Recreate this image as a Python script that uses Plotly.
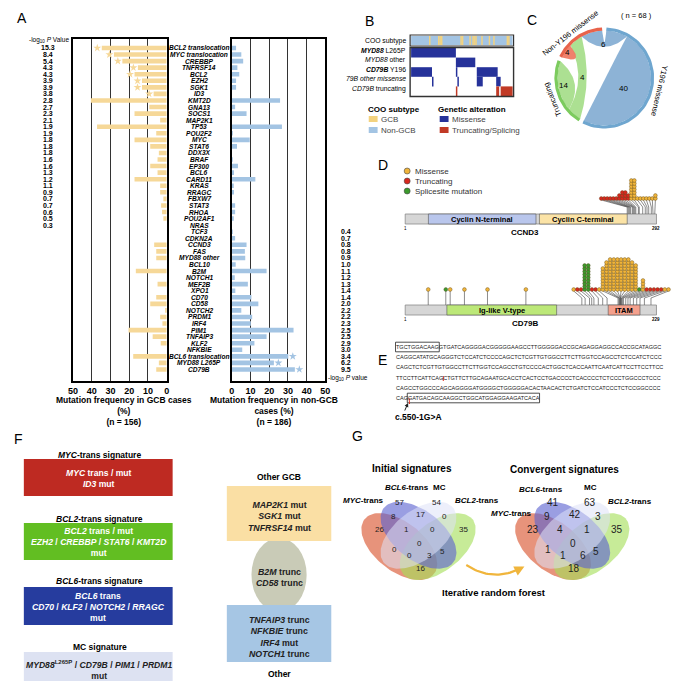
import numpy as np
import plotly.graph_objects as go

W, H = 685, 681
FONT = "Liberation Sans, Arial, sans-serif"

# ---------------- A: mutation frequency by COO ----------------
genes = ["BCL2 translocation", "MYC translocation", "CREBBP", "TNFRSF14", "BCL2", "EZH2", "SGK1", "ID3",
         "KMT2D", "GNA13", "SOCS1", "MAP2K1", "TP53", "POU2F2", "MYC", "STAT6", "DDX3X", "BRAF",
         "EP300", "BCL6", "CARD11", "KRAS", "RRAGC", "FBXW7", "STAT3", "RHOA", "POU2AF1", "NRAS",
         "TCF3", "CDKN2A", "CCND3", "FAS", "MYD88 other", "BCL10", "B2M", "NOTCH1", "MEF2B", "XPO1",
         "CD70", "CD58", "NOTCH2", "PRDM1", "IRF4", "PIM1", "TNFAIP3", "KLF2", "NFKBIE",
         "BCL6 translocation", "MYD88 L265P", "CD79B"]
gcb_freq = [34.7, 28.2, 23.7, 15.4, 17.2, 13.2, 13.2, 7.0, 40.5, 9.3,
            17.2, 3.5, 37.2, 5.6, 17.2, 8.8, 4.2, 4.9, 8.8, 4.9,
            17.2, 3.5, 3.5, 1.8, 3.0, 2.5, 1.8, 0, 0, 0,
            6.7, 5.6, 5.6, 0, 16.5, 0, 4.9, 0, 5.6, 8.8,
            0.4, 3.5, 2.3, 20.4, 7.5, 3.2, 0, 17.9, 4.2, 5.6]
nongcb_freq = [2.3, 5.1, 6.1, 3.0, 4.0, 2.3, 2.3, 0, 25.8, 1.8,
               7.9, 0, 26.8, 0.5, 9.6, 2.8, 0, 0.5, 3.3, 1.2,
               12.6, 0.7, 1.2, 0, 1.8, 1.8, 0.7, 0, 0.5, 1.8,
               7.9, 7.0, 7.2, 2.1, 18.6, 1.6, 8.6, 1.9, 10.5, 14.2,
               5.1, 10.9, 10.2, 33.0, 18.6, 12.1, 5.6, 30.2, 22.5, 33.7]
gcb_logp = ["15.3", "8.4", "5.4", "4.3", "4.3", "3.9", "3.9", "3.8", "2.8", "2.7", "2.3", "2.1", "1.9", "1.9",
            "1.8", "1.8", "1.8", "1.6", "1.6", "1.3", "1.2", "1.1", "0.9", "0.7", "0.7", "0.6", "0.5", "0.3"]
nongcb_logp = ["0.4", "0.7", "0.8", "0.8", "0.9", "1.0", "1.1", "1.2", "1.3", "1.4", "1.4", "2.0", "2.2",
               "2.2", "2.3", "2.5", "2.5", "2.9", "3.0", "3.4", "6.2", "9.5"]
gcb_sig = [0, 1, 2, 3, 4, 5, 6, 7]
nongcb_sig = [47, 48, 49]

# ---------------- B: oncoprint ----------------
n_cases = 68
coo_gcb_cols = [12, 18, 19, 20, 33, 34, 39, 41, 42, 43, 47, 52, 55, 64, 65]
onco_rows = ["MYD88 L265P", "MYD88 other", "CD79B Y196", "CD79B other missense", "CD79B truncating"]
onco_runs = [
    [(0, 30, "M")],
    [(30, 43, "M")],
    [(0, 14, "M"), (30, 31, "M"), (44, 58, "M")],
    [(14, 15, "M"), (31, 32, "M"), (44, 48, "M"), (57, 60, "M")],
    [(30, 31, "T"), (57, 59, "T"), (60, 68, "T")],
]

# ---------------- C: chord ----------------
chord_groups = ["Y196 missense", "Truncating", "Non-Y196 missense"]
chord_links = [("Y196 missense", "Non-Y196 missense", 6), ("Y196 missense", "Y196 missense", 40),
               ("Truncating", "Non-Y196 missense", 4), ("Truncating", "Truncating", 14),
               ("Non-Y196 missense", "Non-Y196 missense", 4)]
seg_order = {"Y196 missense": [0, 1], "Truncating": [2, 3], "Non-Y196 missense": [4, 2, 0]}

# ---------------- D: lollipops ----------------
ccnd3_len = 292
ccnd3_domains = [("Cyclin N-terminal", 27, 152), ("Cyclin C-terminal", 156, 258)]
ccnd3_types = list("RRRRRRRRRROOOOOOOOO")
ccnd3_counts = [1, 1, 1, 1, 1, 1, 2, 3, 3, 2, 7, 7, 1, 1, 1, 1, 1, 1, 2]
ccnd3_aa = [258, 259, 260, 261, 262, 264, 265, 266, 267, 268, 271, 272, 276, 279, 281, 283, 286, 288, 290]
cd79b_len = 229
cd79b_domains = [("Ig-like V-type", 38, 138), ("ITAM", 185, 214)]
cd79b_single_aa = [21, 37, 41, 54, 75, 110]
cd79b_single_types = list("OGOOOO")
cd79b_types = list("ORRGGRROOOOOOOOOOOGORRRRROO")
cd79b_counts = [1, 1, 1, 9, 9, 1, 1, 1, 8, 10, 11, 11, 11, 11, 11, 11, 10, 9, 1, 4, 1, 1, 1, 1, 1, 1, 1]
cd79b_aa = [161, 164, 168, 170, 172, 176, 180, 184, 194, 195, 195, 196, 196, 196, 196, 197, 197, 198,
            199, 201, 203, 205, 208, 211, 214, 218, 224]

# ---------------- E: sequence ----------------
seq_lines = [
    ("", "TGCTGGACAAG", "GTGATCAGGGGACGGGGGAAGCCTTGGGGGACCGCAGAGGAGGCCACCGCATAGGC"),
    ("CAGGCATATGCAGGGTCTCCATCTCCCCAGCTCTCGTTGTGGCCTTCTTGGTCCAGCCTCTCCATCTCCC", "", ""),
    ("CAGCTCTCGTTGTGGCCTTCTTGGTCCAGCCTGTCCCCACTGGCTCACCAATTCAATCATTCCTTCCTTCC", "", ""),
    ("TTCCTTCATTCAGCTGTTCTTGCAGAATGCACCTCACTCCTGACCCCTCACCCCTCTCCCTGGCCCTCCC", "", ""),
    ("CAGCCTGGCCCAGCAGGGGATGGGGCTGGGGGACACTAACACTCTGATCTCCATCCCTCTCCGGCCCC", "", ""),
    ("CAG", "GATGACAGCAAGGCTGGCATGGAGGAAGATCACA", ""),
]

# ---------------- G: Venn ----------------
venn_sets = ["MYC", "BCL6", "MC", "BCL2"]
venn_regions = ["A", "B", "C", "D", "AB", "BC", "CD", "ABC", "BCD", "AC", "ABCD", "BD", "ACD", "ABD", "AD"]
initial_counts = [26, 57, 54, 35, 8, 17, 0, 1, 0, 0, 0, 5, 0, 3, 16]
convergent_counts = [23, 41, 63, 35, 9, 42, 3, 4, 1, 1, 0, 5, 1, 6, 18]

GCB_COL = "#F6D898"
NON_COL = "#A3C4E3"
MIS_COL = "#26329A"
TRU_COL = "#C13A26"

fig = go.Figure()
shapes, ann = [], []


def txt(x, y, s, size=8, color="black", xa="center", ya="middle", angle=0):
    ann.append(dict(x=x, y=y, xref="x3", yref="y3", text=s, showarrow=False, textangle=angle,
                    font=dict(size=size, color=color, family=FONT), xanchor=xa, yanchor=ya,
                    borderpad=0, borderwidth=0))


def rect(x0, y0, x1, y1, fill, line=None, lw=0, layer="below"):
    shapes.append(dict(type="rect", xref="x3", yref="y3", x0=x0, y0=y0, x1=x1, y1=y1,
                       fillcolor=fill, line=dict(color=line or fill, width=lw), layer=layer))


def poly(xs, ys, fill, line="rgba(0,0,0,0)", lw=0):
    fig.add_trace(go.Scatter(x=xs, y=ys, mode="lines", fill="toself", fillcolor=fill,
                             line=dict(color=line, width=lw), xaxis="x3", yaxis="y3", hoverinfo="skip"))


# ===== A =====
rows = list(range(len(genes)))
fig.add_trace(go.Bar(x=gcb_freq, y=rows, orientation="h", marker=dict(color=GCB_COL, line=dict(width=0)),
                     width=0.7, xaxis="x", yaxis="y"))
fig.add_trace(go.Bar(x=nongcb_freq, y=rows, orientation="h", marker=dict(color=NON_COL, line=dict(width=0)),
                     width=0.7, xaxis="x2", yaxis="y2"))
fig.add_trace(go.Scatter(x=[gcb_freq[i] + 2.4 for i in gcb_sig], y=gcb_sig, mode="markers",
                         marker=dict(symbol="star", size=6, color=GCB_COL), xaxis="x", yaxis="y"))
fig.add_trace(go.Scatter(x=[nongcb_freq[i] + 2.4 for i in nongcb_sig], y=nongcb_sig, mode="markers",
                         marker=dict(symbol="star", size=6, color=NON_COL), xaxis="x2", yaxis="y2"))

for i, g in enumerate(genes):
    ann.append(dict(x=189 / W, y=i, xref="paper", yref="y", text=f"<b><i>{g}</i></b>", showarrow=False,
                    font=dict(size=6.6, family=FONT, color="black"), xanchor="center", borderpad=0))
for i, v in enumerate(gcb_logp):
    ann.append(dict(x=36 / W, y=i, xref="paper", yref="y", text=f"<b>{v}</b>", showarrow=False,
                    font=dict(size=7, family=FONT, color="black"), xanchor="center", borderpad=0))
for k, v in enumerate(nongcb_logp):
    ann.append(dict(x=332 / W, y=len(gcb_logp) + k, xref="paper", yref="y", text=f"<b>{v}</b>",
                    showarrow=False, font=dict(size=7, family=FONT, color="black"), xanchor="left",
                    borderpad=0))
txt(37, 32, "-log<sub>10</sub> <i>P</i> Value", 6.5)
txt(320, 370, "-log<sub>10</sub> <i>P</i> value", 6.5, xa="left")
txt(113, 403, "<b>Mutation frequency in GCB cases<br>(%)<br>(n = 156)</b>", 8.5)
txt(265, 403, "<b>Mutation frequency in non-GCB<br>cases (%)<br>(n = 186)</b>", 8.5)
txt(9, 10, "A", 14)

# ===== B =====
x0b, x1b = 404, 507
cw = (x1b - x0b) / n_cases
rect(x0b, 28, x1b, 37, NON_COL)
for c in coo_gcb_cols:
    rect(x0b + c * cw, 28, x0b + (c + 1) * cw, 37, "#F3D27E")
rect(x0b - 1, 27, x1b + 1, 38, "rgba(0,0,0,0)", "#333", 1.2, "above")
row_h = 9.6
for r, runs in enumerate(onco_runs):
    for s, e, t in runs:
        rect(x0b + s * cw, 40 + r * row_h, x0b + e * cw, 40 + (r + 1) * row_h, MIS_COL if t == "M" else TRU_COL)
rect(x0b - 1, 39.5, x1b + 1, 40 + 5 * row_h + 0.5, "rgba(0,0,0,0)", "#333", 1.4, "above")
row_lbl = ["COO subtype", "<b><i>MYD88</i></b> L265P", "<i>MYD88</i> other", "<b><i>CD79B</i></b> Y196",
           "<i>79B other missense</i>", "<i>CD79B</i> truncating"]
for r, lab in enumerate(row_lbl):
    txt(399, 32.5 + r * row_h, lab, 6.8, xa="right")
txt(362, 13, "B", 14)
txt(360, 101, "<b>COO subtype</b>", 8, xa="left")
rect(361, 108, 370, 114, "#F3D27E")
txt(373, 111, "GCB", 8, color="#444", xa="left")
rect(361, 119, 370, 125, NON_COL)
txt(373, 122, "Non-GCB", 8, color="#444", xa="left")
txt(431, 101, "<b>Genetic alteration</b>", 8, xa="left")
rect(433, 108, 442, 114, MIS_COL)
txt(445, 111, "Missense", 8, color="#444", xa="left")
rect(433, 119, 442, 125, TRU_COL)
txt(445, 122, "Truncating/Splicing", 8, color="#444", xa="left")

# ===== C =====
ccx, ccy, RR = 600, 70, 49
RI = RR - 1.5
fills = {"Y196 missense": "rgba(135,175,212,0.95)", "Truncating": "rgba(168,222,140,0.95)",
         "Non-Y196 missense": "rgba(238,122,100,0.95)"}
rings = {"Y196 missense": "#6FA6CF", "Truncating": "#7CCB5E", "Non-Y196 missense": "#E8634B"}


def cpt(t, r):
    a = np.radians(t)
    return ccx + r * np.sin(a), ccy - r * np.cos(a)


def arcpts(a1, a2, r, n=40):
    ts = np.linspace(a1, a2, n)
    return [cpt(t, r) for t in ts]


def bez(a, b, r):
    p0, p2 = np.array(cpt(a, r)), np.array(cpt(b, r))
    va = np.array([np.sin(np.radians(a)), np.cos(np.radians(a))])
    vb = np.array([np.sin(np.radians(b)), np.cos(np.radians(b))])
    d = np.degrees(np.arccos(np.clip(va @ vb, -1, 1)))
    m = va + vb
    mid = np.degrees(np.arctan2(m[0], m[1])) if np.linalg.norm(m) > 1e-6 else a + 90
    ctrl = np.array(cpt(mid, r * np.cos(np.radians(d / 2)) * 0.5))
    ts = np.linspace(0, 1, 40)[:, None]
    return list(map(tuple, (1 - ts) ** 2 * p0 + 2 * (1 - ts) * ts * ctrl + ts ** 2 * p2))


totals = {g: 0 for g in chord_groups}
for a, b, v in chord_links:
    totals[a] += v
    if b != a:
        totals[b] += v
gap = 5
unit = (360 - gap * len(chord_groups)) / sum(totals.values())
seg = {}
start = 2.5
garc = {}
for g in chord_groups:
    cur = start
    for li in seg_order[g]:
        v = chord_links[li][2]
        seg[(g, li)] = (cur, cur + v * unit)
        cur += v * unit
    garc[g] = (start, cur)
    start = cur + gap

for li, (a, b, v) in enumerate(chord_links):
    a1, a2 = seg[(a, li)]
    if a == b:
        pts = arcpts(a1, a2, RI) + bez(a2, a1, RI)
        d = a2 - a1
        lr = (RI + RI * np.cos(np.radians(d / 2))) / 2 - 2
        lx, ly = cpt((a1 + a2) / 2, lr)
    else:
        b1, b2 = seg[(b, li)]
        pts = arcpts(a1, a2, RI) + bez(a2, b1, RI) + arcpts(b1, b2, RI) + bez(b2, a1, RI)
        e1, e2 = bez(a2, b1, RI), bez(b2, a1, RI)
        lx = (e1[20][0] + e2[20][0]) / 2
        ly = (e1[20][1] + e2[20][1]) / 2
    xs, ys = zip(*pts)
    poly(list(xs), list(ys), fills[a])
    txt(lx, ly, str(v), 8)
for g in chord_groups:
    xs, ys = zip(*arcpts(garc[g][0], garc[g][1], RR, 60))
    fig.add_trace(go.Scatter(x=xs, y=ys, mode="lines", line=dict(color=rings[g], width=3.2),
                             xaxis="x3", yaxis="y3", hoverinfo="skip"))
lab_ang = {"Y196 missense": 103, "Truncating": 248, "Non-Y196 missense": 322}
for g in chord_groups:
    lx, ly = cpt(lab_ang[g], RR + 8)
    ang = lab_ang[g] if lab_ang[g] <= 180 else lab_ang[g] - 360
    txt(lx, ly, g, 7.6, angle=ang)
txt(527, 12, "C", 14)
txt(633, 7, "( n = 68 )", 7.5)

# ===== D =====
COLS = {"O": "#F0B43A", "R": "#D8281E", "G": "#3C9A2C"}
PX0, PX1 = 398, 653
txt(375, 157, "D", 14)
for k, (lab, t) in enumerate([("Missense", "O"), ("Truncating", "R"), ("Splicesite mutation", "G")]):
    fig.add_trace(go.Scatter(x=[400], y=[163 + k * 10], mode="markers", xaxis="x3", yaxis="y3",
                             marker=dict(size=6, color=COLS[t], line=dict(color="#444", width=0.6))))
    txt(408, 163 + k * 10, lab, 8, color="#333", xa="left")


def lollipop(length, domains, dom_cols, y_bar, name, types, counts, aa, x_start, dx, singles=None):
    sc = lambda v: PX0 + (PX1 - PX0) * v / length
    rect(PX0, y_bar, PX1, y_bar + 10, "#D6D6D6", "#8A8A8A", 0.8)
    for (dn, s, e), col in zip(domains, dom_cols):
        rect(sc(s), y_bar, sc(e), y_bar + 10, col, "#555", 0.6)
        txt((sc(s) + sc(e)) / 2, y_bar + 5, f"<b>{dn}</b>", 7.5)
    txt(PX0, y_bar + 14, "1", 4.5)
    txt(PX1, y_bar + 14, f"<b>{length}</b>", 4.5)
    txt((PX0 + PX1) / 2 - 6, y_bar + 18, f"<b>{name}</b>", 8)
    base = y_bar - 15.5
    lx, ly = [], []
    mx, my, mc = [], [], []
    for i, (t, c, a) in enumerate(zip(types, counts, aa)):
        cx = x_start + i * dx
        lx += [cx, sc(a), sc(a), None]
        ly += [base + 1.5, y_bar - 7, y_bar, None]
        for j in range(c):
            mx.append(cx)
            my.append(base - 3.0 * j)
            mc.append(COLS[t])
    if singles:
        for a, t in zip(*singles):
            lx += [sc(a), sc(a), None]
            ly += [base, y_bar, None]
            mx.append(sc(a))
            my.append(base)
            mc.append(COLS[t])
    fig.add_trace(go.Scatter(x=lx, y=ly, mode="lines", line=dict(color="#5A5A5A", width=0.7),
                             xaxis="x3", yaxis="y3", hoverinfo="skip"))
    fig.add_trace(go.Scatter(x=mx, y=my, mode="markers", xaxis="x3", yaxis="y3", hoverinfo="skip",
                             marker=dict(size=3.8, color=mc, line=dict(color="#5A4A20", width=0.4))))


lollipop(ccnd3_len, ccnd3_domains, ["#B9C6EC", "#FBE3A6"], 206, "CCND3", ccnd3_types, ccnd3_counts,
         ccnd3_aa, 597, 3.05)
lollipop(cd79b_len, cd79b_domains, ["#BCE878", "#F4A08C"], 297, "CD79B", cd79b_types, cd79b_counts,
         cd79b_aa, 569, 3.7, (cd79b_single_aa, cd79b_single_types))

# ===== E =====
CW = {"A": 0.667, "C": 0.722, "G": 0.778, "T": 0.611}
SZ = 5.5
sw = lambda s: sum(CW[c] for c in s) * SZ
txt(375, 352, "E", 14)
for k, (pre, boxed, post) in enumerate(seq_lines):
    y = 339 + k * 10.2
    xs = 389
    full = pre + boxed + post
    txt(xs, y, full, SZ, color="#222", xa="left")
    if boxed:
        bx0 = xs + sw(pre)
        rect(bx0 - 0.8, y - 4.8, bx0 + sw(boxed) + 0.8, y + 4.8, "rgba(0,0,0,0)", "#222", 0.8, "above")
tick4 = 389 + sw(seq_lines[3][0][:13])
shapes.append(dict(type="line", xref="x3", yref="y3", x0=tick4, x1=tick4, y0=368, y1=373,
                   line=dict(color="#E03020", width=1)))
tick6 = 389 + sw("CAG")
shapes.append(dict(type="line", xref="x3", yref="y3", x0=tick6 + 1, x1=tick6 + 1.5, y0=390, y1=396,
                   line=dict(color="#E03020", width=1)))
ann.append(dict(x=tick6, y=395, ax=tick6 - 4, ay=404, xref="x3", yref="y3", axref="x3", ayref="y3",
                showarrow=True, arrowhead=2, arrowsize=0.8, arrowwidth=1, arrowcolor="#222", text=""))
txt(388, 409, "<b>c.550-1G>A</b>", 8.5, xa="left")

# ===== F =====
txt(6, 431, "F", 14)
fbox = [
    ("<b><i>MYC</i>-trans signature</b>", 447, 451, 488, "#BE2A22", "white",
     "<b><i>MYC</i> trans / mut<br><i>ID3</i> mut</b>", 470),
    ("<b><i>BCL2</i>-trans signature</b>", 511, 515, 552, "#62BE22", "white",
     "<b><i>BCL2</i> trans / mut<br><i>EZH2</i> / <i>CREBBP</i> / <i>STAT6</i> / <i>KMT2D</i><br>mut</b>", 534),
    ("<b><i>BCL6</i>-trans signature</b>", 573, 579, 617, "#263C9E", "white",
     "<b><i>BCL6</i> trans<br><i>CD70</i> / <i>KLF2</i> / <i>NOTCH2</i> / <i>RRAGC</i><br>mut</b>", 599),
    ("<b>MC signature</b>", 639, 644, 690, "#DDE2F2", "#222",
     "<b><i>MYD88</i><sup>L265P</sup> / <i>CD79B</i> / <i>PIM1</i> / <i>PRDM1</i><br>mut</b>", 662),
]
for title, ty, y0, y1, col, tc, body, by in fbox:
    txt(88, ty, title, 8.5)
    rect(11, y0, 162, y1, col)
    txt(87, by, body, 8.6, color=tc)
shapes.append(dict(type="circle", xref="x3", yref="y3", x0=242, x1=298, y0=530, y1=604,
                   fillcolor="#C9CBB7", line=dict(width=0), layer="below"))
rect(217, 478, 323, 533, "#FADFA4")
rect(217, 597, 323, 654, "#A6C6E4")
txt(270, 469, "<b>Other GCB</b>", 8.5)
txt(270, 508, "<b><i>MAP2K1</i> mut<br><i>SGK1</i> mut<br><i>TNFRSF14</i> mut</b>", 8.8, color="#222")
txt(270, 569, "<b><i>B2M</i> trunc<br><i>CD58</i> trunc</b>", 8.8, color="#222")
txt(270, 629, "<b><i>TNFAIP3</i> trunc<br><i>NFKBIE</i> trunc<br><i>IRF4</i> mut<br><i>NOTCH1</i> trunc</b>",
    8.8, color="#222")
txt(270, 666, "<b>Other</b>", 8.5)

# ===== G =====
txt(350, 428, "G", 14)
txt(405, 460, "<b>Initial signatures</b>", 10)
txt(560, 461, "<b>Convergent signatures</b>", 10)
ell = [((0.35, 0.47), -45, "rgba(222,105,72,0.72)"), ((0.65, 0.47), 45, "rgba(165,222,88,0.62)"),
       ((0.5, 0.57), -45, "rgba(92,98,208,0.62)"), ((0.5, 0.57), 45, "rgba(222,226,248,0.55)")]
reg_pos = [(0.196, 0.617), (0.35, 0.856), (0.642, 0.856), (0.85, 0.617), (0.304, 0.732), (0.519, 0.758),
           (0.704, 0.732), (0.404, 0.617), (0.612, 0.617), (0.312, 0.44), (0.504, 0.50), (0.688, 0.43),
           (0.427, 0.387), (0.588, 0.387), (0.512, 0.28)]
SX, SY = 130, 113
for vx0, counts, fs in [(346.5, initial_counts, 8), (502.5, convergent_counts, 10)]:
    th = np.linspace(0, 2 * np.pi, 120)
    for (ux, uy), rot, col in ell:
        r = np.radians(rot)
        eu = ux + 0.365 * np.cos(th) * np.cos(r) - 0.205 * np.sin(th) * np.sin(r)
        ev = uy + 0.365 * np.cos(th) * np.sin(r) + 0.205 * np.sin(th) * np.cos(r)
        poly(list(vx0 + SX * eu), list(591.7 - SY * ev), col)
    for (u, v), c in zip(reg_pos, counts):
        txt(vx0 + SX * u, 591.7 - SY * v, str(c), fs, color="#222")
txt(356, 492, "<b><i>MYC</i>-trans</b>", 8)
txt(400, 479, "<b><i>BCL6</i>-trans</b>", 8)
txt(433, 479, "<b>MC</b>", 8)
txt(471, 492, "<b><i>BCL2</i>-trans</b>", 8)
txt(506, 505, "<b><i>MYC</i>-trans</b>", 8)
txt(536, 481, "<b><i>BCL6</i>-trans</b>", 8)
txt(586, 479, "<b>MC</b>", 8)
txt(626, 493, "<b><i>BCL2</i>-trans</b>", 8)
tt = np.linspace(0, 1, 30)
ax_ = (1 - tt) ** 2 * 460 + 2 * (1 - tt) * tt * 486 + tt ** 2 * 514
ay_ = (1 - tt) ** 2 * 557 + 2 * (1 - tt) * tt * 574 + tt ** 2 * 561
fig.add_trace(go.Scatter(x=ax_, y=ay_, mode="lines", line=dict(color="#F0B53C", width=2.2),
                         xaxis="x3", yaxis="y3", hoverinfo="skip"))
ann.append(dict(x=519, y=558.5, ax=512, ay=562, xref="x3", yref="y3", axref="x3", ayref="y3",
                showarrow=True, arrowhead=2, arrowsize=1, arrowwidth=2, arrowcolor="#F0B53C", text=""))
txt(488, 584, "<b>Iterative random forest</b>", 9.5)

# ===== layout =====
ticks = [0, 10, 20, 30, 40, 50]
xa_common = dict(tickvals=ticks, ticktext=[f"<b>{t}</b>" for t in ticks],
                 tickfont=dict(size=9, family=FONT, color="black"),
                 showgrid=True, gridcolor="#333", gridwidth=1, zeroline=False, showline=True, mirror=True,
                 linecolor="black", linewidth=2, ticks="", fixedrange=True)
ya_common = dict(range=[50.76, -1.37], showticklabels=False, showgrid=False, zeroline=False, showline=True,
                 mirror=True, linecolor="black", linewidth=2, ticks="", domain=[1 - 373 / H, 1 - 31 / H])
fig.update_layout(
    width=W, height=H, margin=dict(l=0, r=0, t=0, b=0), showlegend=False,
    paper_bgcolor="white", plot_bgcolor="rgba(0,0,0,0)", bargap=0.3,
    font=dict(family=FONT, color="black"),
    xaxis=dict(domain=[61 / W, 156 / W], range=[50, 0], anchor="y", **xa_common),
    xaxis2=dict(domain=[222 / W, 317 / W], range=[0, 50], anchor="y2", **xa_common),
    yaxis=dict(anchor="x", **ya_common),
    yaxis2=dict(anchor="x2", **ya_common),
    xaxis3=dict(domain=[0, 1], range=[0, W], visible=False, anchor="y3", fixedrange=True),
    yaxis3=dict(domain=[0, 1], range=[H, 0], visible=False, anchor="x3", fixedrange=True),
    shapes=shapes, annotations=ann,
)
fig.write_html("out.html")
